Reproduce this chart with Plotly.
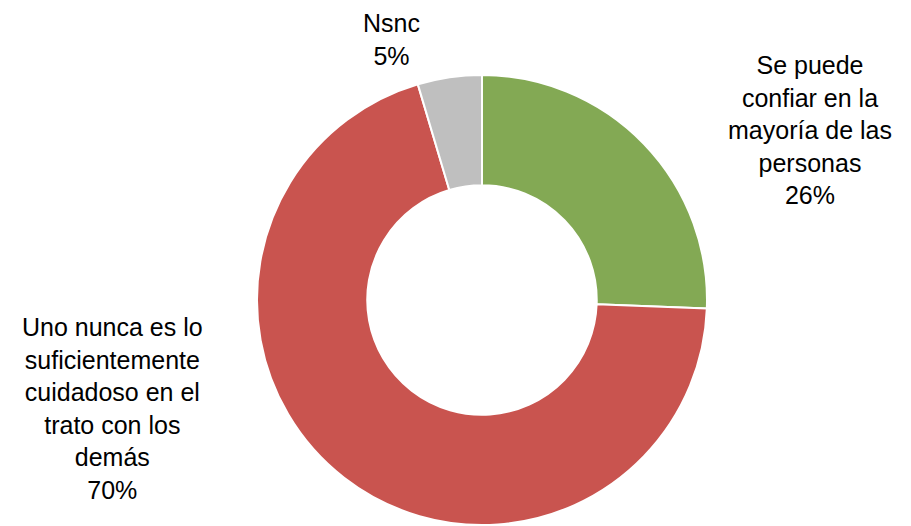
import plotly.graph_objects as go

categories = ["Se puede confiar en la mayoría de las personas",
              "Uno nunca es lo suficientemente cuidadoso en el trato con los demás",
              "Nsnc"]
values = [25.6, 69.8, 4.6]
label_lines = [["Se puede", "confiar en la", "mayoría de las", "personas"],
               ["Uno nunca es lo", "suficientemente", "cuidadoso en el", "trato con los", "demás"],
               ["Nsnc"]]
colors = ["#83A954", "#C9544F", "#BFBFBF"]

fig = go.Figure(go.Pie(
    labels=categories, values=values, hole=0.51, sort=False,
    direction="clockwise", rotation=0, textinfo="none",
    marker=dict(colors=colors, line=dict(color="white", width=2)),
    domain=dict(x=[0.2733, 0.7673], y=[0.0171, 0.8726]),
    showlegend=False, hoverinfo="label+percent"))

label_pos = [(0.8804, 0.769), (0.1142, 0.2395), (0.4215, 0.941)]
for lines, v, (px, py) in zip(label_lines, values, label_pos):
    txt = "<br>".join(lines + [f"{round(v):d}%"])
    fig.add_annotation(text=txt, x=px, y=py, xref="paper", yref="paper",
                       xanchor="center", yanchor="middle", showarrow=False,
                       align="center",
                       font=dict(family="Liberation Sans, Arial", size=25, color="#000000"))

fig.update_layout(width=911, height=526, margin=dict(l=0, r=0, t=0, b=0),
                  paper_bgcolor="white", plot_bgcolor="white")
fig.write_html("out.html")
